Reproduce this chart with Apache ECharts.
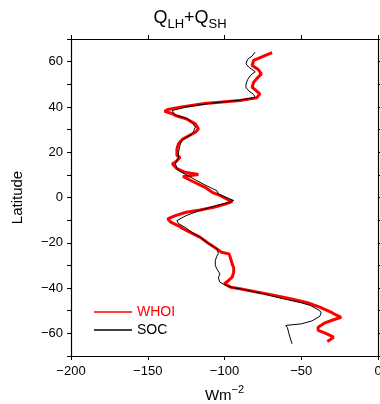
<!DOCTYPE html>
<html>
<head>
<meta charset="utf-8">
<script src="https://cdn.jsdelivr.net/npm/echarts@6/dist/echarts.min.js"></script>
<style>
  html, body { margin: 0; padding: 0; background: #fff; }
  #chart { width: 380px; height: 404px; }
</style>
</head>
<body>
<div id="chart"></div>
<script>
var font = 'Liberation Sans, Arial, Helvetica, sans-serif';
var nameArr = ['WHOI', 'SOC'];
var color = ['#ff0000', '#000000'];

// latitude (deg) and Q_LH+Q_SH (W m-2), north -> south
var whoiLat = [64.0, 62.0, 60.6, 58.3, 56.5, 54.6, 52.5, 50.9, 48.7, 47.0, 45.8, 44.0, 42.8, 41.5, 40.0, 38.9, 38.1,
  37.0, 36.2, 34.8, 32.5, 30.3, 28.8, 28.1, 25.9, 23.7, 21.5, 20.8, 18.6, 17.8, 15.6, 14.9, 12.7, 11.2, 10.2,
  9.3, 7.5, 4.6, 2.3, 0.9, -0.5, -1.8, -3.0, -4.3, -5.5, -6.5, -8.0, -9.4, -10.2, -10.9, -12.5, -13.8, -15.5,
  -17.5, -20.0, -22.7, -24.2, -24.9, -27.0, -29.3, -31.0, -33.0, -35.2, -37.0, -38.1, -39.6, -40.3, -42.5,
  -44.7, -46.5, -48.4, -50.5, -52.0, -52.9, -54.0, -55.5, -57.3, -58.7, -60.0, -61.7, -62.7, -63.6];
var whoiVal = [-69, -76, -81, -82, -78, -76, -79, -81, -82, -79, -77, -79, -90, -113, -128, -137, -139,
  -134, -132, -125, -119, -117, -119, -120, -127, -130, -131, -130, -131, -129, -132, -134, -131, -126, -117,
  -127, -122, -113, -108, -103, -99, -95, -100, -107, -116, -125, -132, -137, -137, -135, -130, -127, -122,
  -116, -111, -105, -102, -97, -96, -95, -94, -94, -95, -98, -100, -96, -90, -73,
  -57, -46, -38, -31, -27, -24, -29, -35, -39, -39, -34, -29, -31, -33];

var socLat = [64.2, 62.5, 61.0, 59.0, 57.5, 55.5, 54.0, 52.0, 50.0, 48.5, 47.0, 45.5, 44.2, 43.0, 41.5, 40.0, 38.4,
  37.0, 36.2, 34.8, 33.0, 31.1, 29.5, 28.1, 25.2, 23.0, 20.0, 17.8, 14.9, 13.0, 11.9, 9.7, 7.8, 5.3, 4.0, 3.0,
  1.6, -0.5, -1.3, -2.5, -3.5, -5.7, -8.0, -10.2, -11.5, -13.5, -15.5, -17.5, -20.0, -22.5, -24.6, -26.0, -27.8,
  -30.0, -31.5, -33.7, -35.5, -37.4, -38.5, -39.6, -40.3, -42.5, -44.7, -46.5, -47.7, -49.9, -51.0, -52.5,
  -54.5, -55.8, -56.5, -57.5, -60.2, -62.5, -64.6];
var socVal = [-80, -82, -85, -86, -84, -80, -83, -85, -86, -86, -84, -81, -80, -90, -110, -125, -134,
  -133, -131, -124, -121, -119, -120, -121, -128, -129, -130, -130, -132, -131, -130, -124, -119, -112, -108, -105,
  -104, -97, -94, -99, -105, -116, -125, -131, -130, -125, -121, -116, -111, -105, -104, -105, -106,
  -106, -105, -103, -104, -103, -100, -96, -90, -75, -62, -50, -44, -38, -37, -38,
  -43, -50, -60, -59, -58, -57, -56];

var xTicks = { min: -200, max: 0, interval: 50 };
var yTicks = { min: -70, max: 70, interval: 10, labelStep: 20 };

function pairs(xs, ys) {
  var out = [];
  for (var i = 0; i < xs.length; i++) out.push([xs[i], ys[i]]);
  return out;
}
function minus(v) { return String(v).replace('-', '\u2212'); }

var chart = echarts.init(document.getElementById('chart'));

var axisLine = { show: true, onZero: false, lineStyle: { color: '#000', width: 1.2 } };
var tick = { show: true, inside: false, length: 4, lineStyle: { color: '#000', width: 1 } };

var option = {
  animation: false,
  backgroundColor: '#fff',
  title: {
    text: '{q|Q}{s|LH}{q|+Q}{s|SH}',
    left: 'center',
    top: 4,
    textStyle: {
      fontWeight: 'normal',
      rich: {
        q: { fontFamily: font, fontSize: 18, fontWeight: 'normal', color: '#000', padding: [0, 0, 6, 0] },
        s: { fontFamily: font, fontSize: 13, fontWeight: 'normal', color: '#000', padding: [6, 0, 0, 0] }
      }
    }
  },
  legend: {
    orient: 'vertical',
    left: 94,
    top: 305,
    padding: 0,
    icon: 'rect',
    itemWidth: 38,
    itemHeight: 1.3,
    itemGap: 4,
    textStyle: { fontFamily: font, fontSize: 14, color: '#000', lineHeight: 14 },
    data: [
      { name: 'WHOI', textStyle: { color: '#ff0000' }, itemStyle: { color: '#ff0000', borderWidth: 0 } },
      { name: 'SOC', textStyle: { color: '#000' }, itemStyle: { color: '#000', borderWidth: 0 } }
    ]
  },
  grid: { left: 71, right: 2, top: 39, bottom: 48, containLabel: false, outerBoundsMode: 'none' },
  xAxis: [{
    type: 'value', position: 'bottom',
    min: xTicks.min, max: xTicks.max, interval: xTicks.interval,
    axisLine: axisLine, axisTick: tick, splitLine: { show: false },
    axisLabel: { margin: 9, fontFamily: font, fontSize: 13, color: '#000', formatter: minus },
    name: '{a|Wm}{b|\u22122}',
    nameLocation: 'middle',
    nameGap: 26,
    nameTextStyle: {
      rich: {
        a: { fontFamily: font, fontSize: 15, color: '#000', padding: [6, 0, 0, 0] },
        b: { fontFamily: font, fontSize: 11, color: '#000', padding: [0, 0, 6, 0] }
      }
    }
  }, {
    type: 'value', position: 'top',
    min: xTicks.min, max: xTicks.max, interval: xTicks.interval,
    axisLine: axisLine, axisTick: tick, splitLine: { show: false },
    axisLabel: { show: false }
  }],
  yAxis: [{
    type: 'value', position: 'left',
    min: yTicks.min, max: yTicks.max, interval: yTicks.interval,
    axisLine: axisLine, axisTick: tick, splitLine: { show: false },
    axisLabel: {
      margin: 8, fontFamily: font, fontSize: 13, color: '#000',
      formatter: function (v) { return v % yTicks.labelStep === 0 ? minus(v) : ''; }
    },
    name: 'Latitude',
    nameLocation: 'middle',
    nameGap: 46,
    nameTextStyle: { fontFamily: font, fontSize: 15, color: '#000' }
  }, {
    type: 'value', position: 'right',
    min: yTicks.min, max: yTicks.max, interval: yTicks.interval,
    axisLine: axisLine, axisTick: tick, splitLine: { show: false },
    axisLabel: { show: false }
  }],
  series: [{
    name: nameArr[0],
    type: 'line',
    xAxisIndex: 0, yAxisIndex: 0,
    symbol: 'none',
    lineStyle: { color: color[0], width: 3 },
    itemStyle: { color: color[0] },
    data: pairs(whoiVal, whoiLat)
  }, {
    name: nameArr[1],
    type: 'line',
    xAxisIndex: 0, yAxisIndex: 0,
    symbol: 'none',
    lineStyle: { color: color[1], width: 1 },
    itemStyle: { color: color[1] },
    data: pairs(socVal, socLat)
  }]
};

chart.setOption(option);
</script>
</body>
</html>
